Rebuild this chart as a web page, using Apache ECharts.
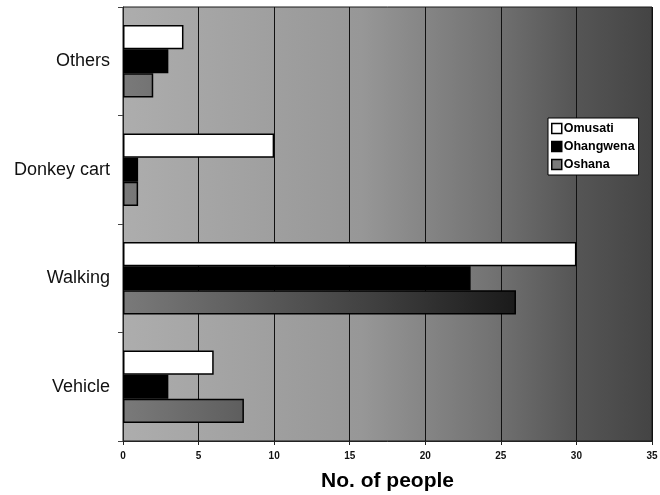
<!DOCTYPE html>
<html>
<head>
<meta charset="utf-8">
<script src="https://cdn.jsdelivr.net/npm/echarts@6/dist/echarts.min.js"></script>
<style>
  html, body { margin: 0; padding: 0; background: #ffffff; }
  #chart { width: 660px; height: 495px; }
</style>
</head>
<body>
<div id="chart"></div>
<script>
// Means of transport, bottom to top
const categories = ['Vehicle', 'Walking', 'Donkey cart', 'Others'];
const omusati = [6, 30, 10, 4];
const ohangwena = [3, 23, 1, 3];
const oshana = [8, 26, 1, 2];
const xTicks = { min: 0, max: 35, step: 5 };

const chart = echarts.init(document.getElementById('chart'), null, { renderer: 'canvas' });

const font = 'Arial, "Liberation Sans", sans-serif';

const plotFill = new echarts.graphic.LinearGradient(0, 0, 1, 0, [
  { offset: 0, color: '#adadad' },
  { offset: 0.45, color: '#979797' },
  { offset: 0.7, color: '#727272' },
  { offset: 0.85, color: '#565656' },
  { offset: 1, color: '#444444' }
]);

const oshanaFill = {
  type: 'linear', x: 123, y: 0, x2: 540, y2: 0, global: true,
  colorStops: [
    { offset: 0, color: '#7a7a7a' },
    { offset: 0.6, color: '#404040' },
    { offset: 1, color: '#141414' }
  ]
};

const barBase = {
  type: 'bar',
  barGap: '0%',
  barCategoryGap: '33%',
  animation: false
};

chart.setOption({
  backgroundColor: '#ffffff',
  animation: false,
  grid: {
    left: 123, right: 8, top: 7, bottom: 54,
    outerBoundsMode: 'none',
    containLabel: false,
    show: true,
    backgroundColor: plotFill,
    borderColor: '#1a1a1a',
    borderWidth: 1
  },
  legend: {
    orient: 'vertical',
    left: 548, top: 118,
    data: ['Omusati', 'Ohangwena', 'Oshana'],
    backgroundColor: '#ffffff',
    borderColor: '#000000',
    borderWidth: 1,
    borderRadius: 0,
    padding: [4, 4, 4, 3],
    itemGap: 5,
    itemWidth: 10,
    itemHeight: 10,
    icon: 'rect',
    itemStyle: { borderColor: '#000', borderWidth: 1.5 },
    textStyle: { fontFamily: font, fontWeight: 'bold', fontSize: 12.5, color: '#000', padding: [0, 0, 0, -3] }
  },
  xAxis: {
    type: 'value',
    min: xTicks.min, max: xTicks.max, interval: xTicks.step,
    name: 'No. of people',
    nameLocation: 'middle',
    nameGap: 30,
    nameTextStyle: { fontFamily: font, fontWeight: 'bold', fontSize: 21, color: '#000' },
    axisLine: { show: true, lineStyle: { color: '#222', width: 1 } },
    axisTick: { show: true, length: 4, lineStyle: { color: '#222' } },
    axisLabel: { fontFamily: font, fontSize: 10, fontWeight: 'bold', color: '#111', margin: 10 },
    splitLine: { show: true, lineStyle: { color: '#111', width: 1 } }
  },
  yAxis: {
    type: 'category',
    data: categories,
    axisLine: { show: true, lineStyle: { color: '#222', width: 1 } },
    axisTick: { show: true, length: 5, lineStyle: { color: '#444' } },
    axisLabel: { fontFamily: font, fontSize: 18, color: '#111', margin: 13 },
    splitLine: { show: false }
  },
  series: [
    Object.assign({}, barBase, {
      name: 'Omusati', data: omusati,
      itemStyle: { color: '#ffffff', borderColor: '#000', borderWidth: 1.5 }
    }),
    Object.assign({}, barBase, {
      name: 'Ohangwena', data: ohangwena,
      itemStyle: { color: '#000000', borderColor: '#000', borderWidth: 1.5 }
    }),
    Object.assign({}, barBase, {
      name: 'Oshana', data: oshana,
      itemStyle: { color: oshanaFill, borderColor: '#000', borderWidth: 1.5 }
    })
  ]
});
</script>
</body>
</html>
